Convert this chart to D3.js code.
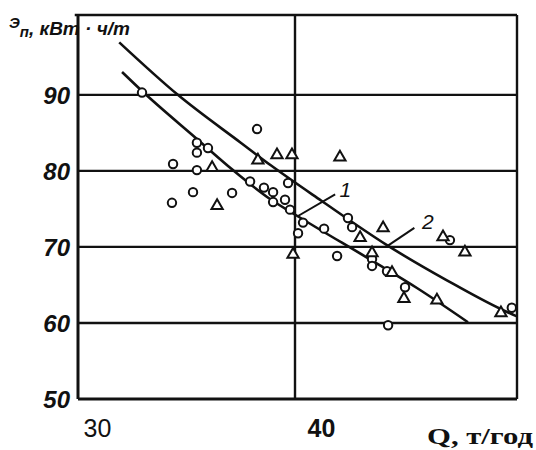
<!DOCTYPE html>
<html><head><meta charset="utf-8">
<script src="https://cdn.jsdelivr.net/npm/d3@7"></script>
<style>
html,body{margin:0;padding:0;background:#fff;}
svg{display:block;}
</style></head>
<body>
<svg id="chart" width="536" height="450"></svg>
<script>
// ---- data ----
const xTicks = [30, 40];
const yTicks = [50, 60, 70, 80, 90];
const yGrid = [60, 70, 80, 90];
const xGrid = [40];

// measured points: circles
const circleQ = [32.95, 38.25, 35.48, 35.99, 35.48, 34.38, 35.48, 35.30, 37.10, 34.33, 37.93, 38.57, 38.99, 38.99, 39.68, 39.54, 39.77, 40.37, 40.14, 41.34, 42.44, 42.63, 41.94, 43.55, 43.55, 44.24, 45.07, 44.29, 47.14, 49.99];
const circleE = [90.3, 85.5, 83.7, 83.0, 82.4, 80.9, 80.1, 77.2, 77.1, 75.8, 78.6, 77.8, 77.2, 75.9, 78.4, 76.2, 74.9, 73.2, 71.8, 72.4, 73.8, 72.6, 68.8, 68.4, 67.5, 66.8, 64.7, 59.7, 70.9, 62.0];

// measured points: triangles
const triQ = [36.18, 36.41, 38.29, 39.17, 39.86, 42.07, 39.91, 43.00, 44.06, 43.55, 44.47, 45.02, 46.54, 46.82, 47.83, 49.49];
const triE = [80.4, 75.4, 81.4, 82.1, 82.1, 81.8, 69.0, 71.2, 72.5, 69.2, 66.6, 63.2, 63.0, 71.3, 69.3, 61.3];

// curve 1 (lower) and curve 2 (upper)
const line1Q = [32.03, 32.95, 35.48, 37.14, 38.85, 40.09, 43.78, 45.62, 47.97];
const line1E = [93.0, 90.5, 84.2, 80.1, 76.3, 74.1, 67.8, 64.6, 60.1];
const line2Q = [31.9, 34.6, 37.5, 38.9, 41.2, 44.2, 47.0, 49.5, 50.2];
const line2E = [96.9, 90.0, 83.7, 80.7, 76.1, 70.3, 65.6, 61.8, 60.9];

// curve labels
const curveLabels = ["1", "2"];
const labelLeaderQ0 = [40.1, 44.3];
const labelLeaderE0 = [74.0, 70.2];
const labelLeaderQ1 = [41.85, 45.5];
const labelLeaderE1 = [76.9, 72.5];
const labelTextQ = [42.05, 45.85];
const labelTextE = [76.6, 72.3];

const xLabel = "Q, т/год";

// ---- drawing ----
const svg = d3.select("#chart");
const ink = "#111";
const x = d3.scaleLinear().domain([30, 50.23]).range([78, 517]);
const y = d3.scaleLinear().domain([50, 100.5]).range([399, 15]);

// gridlines
svg.append("g").selectAll("line").data(yGrid).join("line")
  .attr("x1", x(30)).attr("x2", x(50.23))
  .attr("y1", d => y(d)).attr("y2", d => y(d))
  .attr("stroke", ink).attr("stroke-width", 2.4);
svg.append("g").selectAll("line").data(xGrid).join("line")
  .attr("x1", d => x(d)).attr("x2", d => x(d))
  .attr("y1", y(50)).attr("y2", y(100.5))
  .attr("stroke", ink).attr("stroke-width", 2.4);

// frame
svg.append("line").attr("x1", x(30)).attr("x2", x(30)).attr("y1", y(50)).attr("y2", y(100.5))
  .attr("stroke", ink).attr("stroke-width", 3);
svg.append("line").attr("x1", x(30)).attr("x2", x(50.23)).attr("y1", y(50)).attr("y2", y(50))
  .attr("stroke", ink).attr("stroke-width", 3);
svg.append("line").attr("x1", x(29.85)).attr("x2", x(50.23)).attr("y1", y(100.5)).attr("y2", y(100.5))
  .attr("stroke", ink).attr("stroke-width", 2.6);
svg.append("line").attr("x1", x(50.23)).attr("x2", x(50.23)).attr("y1", y(50)).attr("y2", y(100.5))
  .attr("stroke", ink).attr("stroke-width", 2.4);

// y tick labels via axis
const yAxis = svg.append("g").attr("transform", `translate(${x(30)},0)`)
  .call(d3.axisLeft(y).tickValues(yTicks).tickSize(0).tickPadding(8).tickFormat(d3.format("d")));
yAxis.select(".domain").remove();
yAxis.selectAll("text")
  .attr("font-family", "Liberation Sans, Arial, sans-serif")
  .attr("font-size", 24).attr("font-style", "italic").attr("font-weight", "bold")
  .attr("fill", ink).attr("dy", "0.36em");

// x tick labels via axis
const xAxis = svg.append("g").attr("transform", `translate(0,${y(50)})`)
  .call(d3.axisBottom(x).tickValues(xTicks).tickSize(0).tickPadding(24).tickFormat(d3.format("d")));
xAxis.select(".domain").remove();
xAxis.selectAll("text")
  .attr("font-family", "Liberation Sans, Arial, sans-serif")
  .attr("font-size", 25).attr("fill", ink)
  .attr("font-weight", d => d === 40 ? "bold" : "normal")
  .attr("dx", d => d === 40 ? 26 : 19).attr("dy", "0.55em");

// x axis title
svg.append("text").attr("x", 427).attr("y", 444)
  .attr("font-family", "Liberation Serif, Times New Roman, serif")
  .attr("font-size", 24).attr("font-weight", "bold").attr("fill", ink)
  .attr("textLength", 106).attr("lengthAdjust", "spacingAndGlyphs")
  .text(xLabel);

// y axis title
const yt = svg.append("text").attr("x", 9).attr("y", 35)
  .attr("font-family", "Liberation Sans, Arial, sans-serif")
  .attr("font-weight", "bold").attr("font-style", "italic").attr("fill", ink);
yt.append("tspan").attr("font-size", 15).attr("dy", -7).text("Э");
yt.append("tspan").attr("font-size", 15).attr("dy", 9).text("п");
yt.append("tspan").attr("font-size", 19).attr("dy", -2).text(", кВт · ч/т");

// curves
const line = d3.line().x(d => x(d[0])).y(d => y(d[1])).curve(d3.curveMonotoneX);
const l1 = line1Q.map((q, i) => [q, line1E[i]]);
const l2 = line2Q.map((q, i) => [q, line2E[i]]);
[l1, l2].forEach(pts => {
  svg.append("path").attr("d", line(pts)).attr("fill", "none")
    .attr("stroke", ink).attr("stroke-width", 2.6);
});

// curve labels
curveLabels.forEach((lab, i) => {
  svg.append("line")
    .attr("x1", x(labelLeaderQ0[i])).attr("y1", y(labelLeaderE0[i]))
    .attr("x2", x(labelLeaderQ1[i])).attr("y2", y(labelLeaderE1[i]))
    .attr("stroke", ink).attr("stroke-width", 2);
  svg.append("text").attr("x", x(labelTextQ[i])).attr("y", y(labelTextE[i]))
    .attr("font-family", "Liberation Sans, Arial, sans-serif")
    .attr("font-size", 21).attr("font-style", "italic").attr("fill", ink)
    .text(lab);
});

// markers
svg.append("g").selectAll("circle").data(circleQ.map((q, i) => [q, circleE[i]])).join("circle")
  .attr("cx", d => x(d[0])).attr("cy", d => y(d[1])).attr("r", 4.2)
  .attr("fill", "#fff").attr("stroke", ink).attr("stroke-width", 2);
const tri = d3.symbol().type(d3.symbolTriangle).size(55);
svg.append("g").selectAll("path").data(triQ.map((q, i) => [q, triE[i]])).join("path")
  .attr("d", tri).attr("transform", d => `translate(${x(d[0])},${y(d[1])})`)
  .attr("fill", "#fff").attr("stroke", ink).attr("stroke-width", 2);
</script>
</body></html>
